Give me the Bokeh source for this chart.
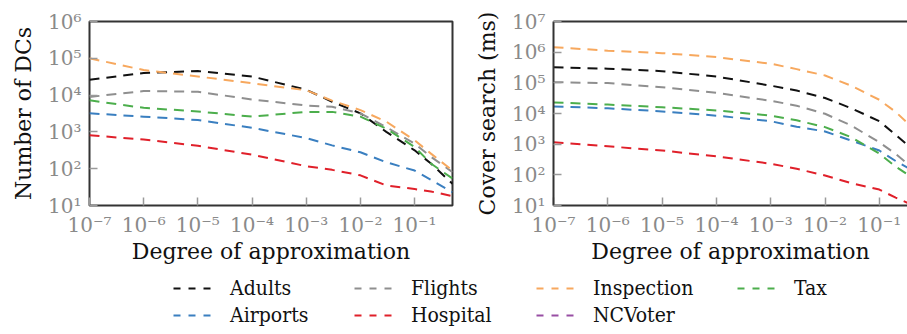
from bokeh.plotting import figure
from bokeh.models import (Range1d, FixedTicker, CustomJSTickFormatter, Legend,
                          LegendItem, LogAxis)
from bokeh.layouts import column, row
from bokeh.embed import file_html
from bokeh.resources import INLINE

# ---------------- data ----------------
degree = [1e-7, 1e-6, 1e-5, 1e-4, 1e-3, 3e-3, 1e-2, 3e-2, 1e-1, 0.2, 0.5]

series_names = ["Adults", "Airports", "Flights", "Hospital", "Inspection", "NCVoter", "Tax"]
series_colors = ["#111111", "#3a7fc0", "#8f8f8f", "#e0202a", "#f7a85e", "#984ea3", "#4cae4c"]

# Number of DCs
dcs_adults = [26000, 40000, 45000, 32000, 14000, 6600, 3200, 1000, 316, 138, 39]
dcs_airports = [3200, 2600, 2100, 1290, 680, 430, 280, 150, 89, 50, 23]
dcs_flights = [8900, 12900, 12300, 7600, 5200, 4800, 3200, 1350, 480, 210, 81]
dcs_hospital = [810, 620, 420, 240, 117, 93, 66, 35, 28, 24, 18]
dcs_inspection = [100000, 48000, 32000, 21000, 13500, 7100, 3900, 1900, 590, 257, 89]
dcs_ncvoter = []
dcs_tax = [7200, 4500, 3600, 2600, 3500, 3500, 2600, 1230, 390, 138, 54]

# Cover search (ms)
cov_adults = [320000, 290000, 240000, 160000, 81000, 56000, 32000, 15000, 5600, 2000, 500]
cov_airports = [17000, 14800, 11700, 8500, 5600, 3700, 2600, 1320, 620, 282, 112]
cov_flights = [105000, 98000, 72000, 47000, 26000, 18000, 9800, 4100, 1150, 480, 126]
cov_hospital = [1150, 850, 620, 400, 230, 158, 95, 54, 33, 18, 8.9]
cov_inspection = [1450000, 1120000, 930000, 690000, 420000, 280000, 174000, 81000, 28000, 11200, 2500]
cov_ncvoter = []
cov_tax = [23000, 19500, 16000, 12600, 8500, 6000, 3600, 1700, 490, 186, 63]

x_ticks = [1e-7, 1e-6, 1e-5, 1e-4, 1e-3, 1e-2, 1e-1]
y_ticks_left = [1e1, 1e2, 1e3, 1e4, 1e5, 1e6]
y_ticks_right = [1e1, 1e2, 1e3, 1e4, 1e5, 1e6, 1e7]

dcs = [dcs_adults, dcs_airports, dcs_flights, dcs_hospital, dcs_inspection, dcs_ncvoter, dcs_tax]
cov = [cov_adults, cov_airports, cov_flights, cov_hospital, cov_inspection, cov_ncvoter, cov_tax]

SERIF = "DejaVu Serif"
TICK_GRAY = "#8a8a8a"
FRAME = "#333333"

sup_js = """
const sup = {"-":"\u207b","0":"\u2070","1":"\u00b9","2":"\u00b2","3":"\u00b3",
             "4":"\u2074","5":"\u2075","6":"\u2076","7":"\u2077","8":"\u2078","9":"\u2079"};
const e = Math.round(Math.log10(tick));
return "10" + String(e).split("").map(c => sup[c]).join("");
"""


def style_axis(ax, ticks, label):
    ax.ticker = FixedTicker(ticks=ticks)
    ax.formatter = CustomJSTickFormatter(code=sup_js)
    ax.major_tick_in = 8
    ax.major_tick_out = 0
    ax.minor_tick_in = 0
    ax.minor_tick_out = 0
    ax.major_tick_line_color = "#9a9a9a"
    ax.major_tick_line_width = 1.5
    ax.major_label_text_font = SERIF
    ax.major_label_text_font_size = "20px"
    ax.major_label_text_color = TICK_GRAY
    ax.axis_label = label
    ax.axis_label_text_font = SERIF
    ax.axis_label_text_font_size = "22px"
    ax.axis_label_text_font_style = "normal"
    ax.axis_label_text_color = "#111111"


def make_panel(values, ylabel, width, x_end, y_end, yticks, border_left, border_right, outline):
    p = figure(width=width, height=270, x_axis_type="log", y_axis_type="log",
               x_range=Range1d(1e-7, x_end), y_range=Range1d(10, y_end),
               output_backend="svg", toolbar_location=None,
               min_border_left=border_left, min_border_right=border_right,
               min_border_top=21, min_border_bottom=65)
    p.xgrid.visible = False
    p.ygrid.visible = False
    p.background_fill_color = "white"
    p.border_fill_color = "white"
    style_axis(p.xaxis[0], x_ticks, "Degree of approximation")
    style_axis(p.yaxis[0], yticks, ylabel)
    p.xaxis.major_label_standoff = 7
    p.yaxis.major_label_standoff = 8
    p.yaxis.axis_label_standoff = 9
    p.xaxis.axis_label_standoff = -1
    if outline:
        p.outline_line_color = FRAME
        p.outline_line_width = 2
        p.xaxis.axis_line_color = None
        p.yaxis.axis_line_color = None
    else:
        p.outline_line_color = None
        for ax in (p.xaxis[0], p.yaxis[0]):
            ax.axis_line_color = FRAME
            ax.axis_line_width = 2
        top = LogAxis(ticker=FixedTicker(ticks=[]), major_tick_in=0, major_tick_out=0,
                      minor_tick_in=0, minor_tick_out=0, major_label_text_font_size="0px",
                      axis_line_color=FRAME, axis_line_width=2)
        p.add_layout(top, "above")
    for name, color, vals in zip(series_names, series_colors, values):
        if len(vals) == 0:
            continue
        p.line(degree[:len(vals)], vals, line_color=color, line_width=2, line_dash="10 7")
    return p


p1 = make_panel(dcs, "Number of DCs", 460, 0.5, 1e6, y_ticks_left, 89, 8, True)
p2 = make_panel(cov, "Cover search (ms)", 447, 0.33, 1e7, y_ticks_right, 93, 0, False)

# ---------------- legend strip ----------------
p3 = figure(width=907, height=64, x_range=Range1d(1, 2), y_range=Range1d(1, 2),
            output_backend="svg", toolbar_location=None,
            x_axis_location=None, y_axis_location=None, min_border=0)
p3.grid.visible = False
p3.outline_line_color = None

# legend handles only: a single off-range point each, nothing visible is drawn
rend = {}
for name, color in zip(series_names, series_colors):
    rend[name] = p3.line(x=[0], y=[0], line_color=color, line_width=2, line_dash="7 8")

groups = [["Adults", "Airports"], ["Flights", "Hospital"], ["Inspection", "NCVoter"], ["Tax"]]
xs = [173, 354, 536, 737]
for g, x in zip(groups, xs):
    n = len(g)
    h = 24 * n + 3 * (n - 1)
    vy = 64 - 6 - h
    leg = Legend(items=[LegendItem(label=k, renderers=[rend[k]]) for k in g],
                 location=(x, vy), orientation="vertical", padding=0, margin=0,
                 spacing=3, glyph_width=38, glyph_height=24, label_height=24,
                 label_standoff=19, label_text_font="DejaVu Serif Condensed",
                 label_text_font_size="21px", label_text_color="#111111",
                 border_line_alpha=0, background_fill_alpha=0)
    p3.add_layout(leg)

layout = column(row(p1, p2), p3)
open("out.html", "w").write(file_html(layout, INLINE))
